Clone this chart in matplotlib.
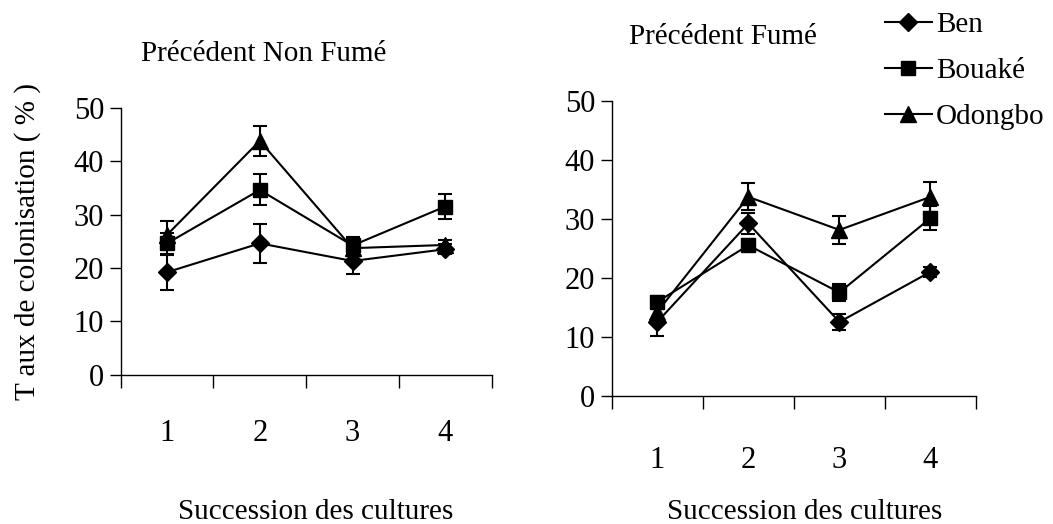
import numpy as np
import matplotlib.pyplot as plt
from matplotlib.lines import Line2D

plt.rcParams['font.family'] = ['Liberation Serif', 'DejaVu Serif']

successions = [1, 2, 3, 4]
varietes = ["Ben", "Bouaké", "Odongbo"]
marqueurs = ["D", "s", "^"]
tailles = [9, 10, 11]

# Précédent non fumé
non_fume = {
    "Ben":     [19.2, 24.6, 21.3, 23.5],
    "Bouaké":  [24.6, 34.6, 24.2, 31.5],
    "Odongbo": [26.2, 43.8, 23.7, 24.3],
}
non_fume_err = {
    "Ben":     [3.3, 3.7, 2.5, 0.9],
    "Bouaké":  [2.0, 2.9, 1.5, 2.3],
    "Odongbo": [2.5, 2.8, 1.2, 1.0],
}

# Précédent fumé
fume = {
    "Ben":     [12.5, 29.2, 12.5, 21.0],
    "Bouaké":  [15.9, 25.5, 17.5, 30.1],
    "Odongbo": [14.2, 33.7, 28.1, 33.7],
}
fume_err = {
    "Ben":     [2.4, 1.8, 1.3, 0.8],
    "Bouaké":  [1.0, 1.0, 1.5, 2.0],
    "Odongbo": [1.2, 2.3, 2.4, 2.6],
}

FS = 21
FS_TICK = 22

fig = plt.figure(figsize=(10.53, 5.24), dpi=100)
ax1 = fig.add_axes([0.1146, 0.2849, 0.3523, 0.5095])
ax2 = fig.add_axes([0.5809, 0.2448, 0.3460, 0.5630])

def trace(ax, valeurs, erreurs, titre, pad_x, titre_x, titre_y):
    for nom, m, t in zip(varietes, marqueurs, tailles):
        ax.errorbar(successions, valeurs[nom], yerr=erreurs[nom], color="black",
                    marker=m, markersize=t, linewidth=1.5, elinewidth=1.5,
                    capsize=5, capthick=1.5)
    ax.set_xlim(0.5, 4.5)
    ax.set_ylim(0, 50)
    ax.set_yticks([0, 10, 20, 30, 40, 50])
    ax.set_xticks([0.5, 1.5, 2.5, 3.5, 4.5])
    ax.set_xticklabels([])
    ax.set_xticks(successions, minor=True)
    ax.set_xticklabels([str(s) for s in successions], minor=True)
    ax.tick_params(axis="x", which="minor", length=0, pad=pad_x, labelsize=FS_TICK)
    ax.tick_params(axis="x", which="major", length=9, width=1, direction="out")
    ax.tick_params(axis="y", length=8, width=1, direction="out", labelsize=FS_TICK, pad=4)
    for s in ["top", "right"]:
        ax.spines[s].set_visible(False)
    for s in ["left", "bottom"]:
        ax.spines[s].set_linewidth(1)
    ax.set_xlabel("Succession des cultures", fontsize=FS)
    ax.set_title(titre, fontsize=FS, x=titre_x, y=titre_y)

trace(ax1, non_fume, non_fume_err, "Précédent Non Fumé", 32, 0.386, 1.145)
trace(ax2, fume, fume_err, "Précédent Fumé", 36, 0.305, 1.163)

ax1.set_ylabel("T aux de colonisation ( % )", fontsize=21)
ax1.yaxis.set_label_coords(-0.215, 0.5)
ax1.xaxis.set_label_coords(0.526, -0.465)
ax2.xaxis.set_label_coords(0.53, -0.35)

handles = [Line2D([], [], color="black", marker=m, markersize=t, linewidth=1.5)
           for m, t in zip(marqueurs, tailles)]
fig.legend(handles, varietes, loc="upper left", bbox_to_anchor=(0.8405, 0.978),
           frameon=False, fontsize=FS, handlelength=1.6, handletextpad=0.15,
           labelspacing=0.68, borderpad=0, borderaxespad=0)

fig.savefig("out.png", dpi=100)
